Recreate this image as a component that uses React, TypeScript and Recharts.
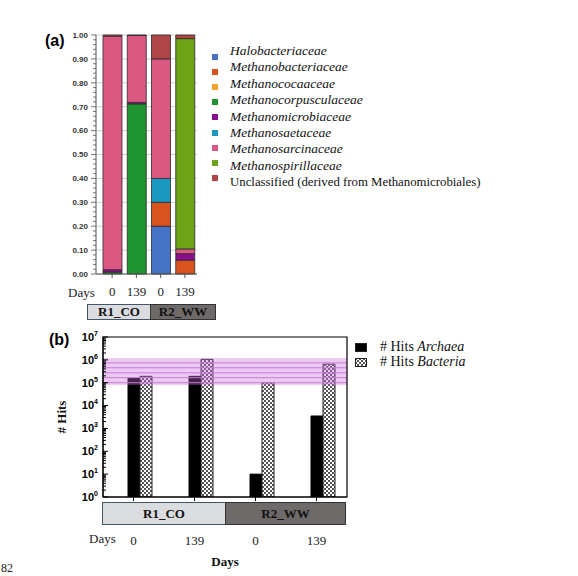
import { Fragment } from 'react';
import {
  BarChart,
  Bar,
  XAxis,
  YAxis,
  CartesianGrid,
  ReferenceArea,
  ReferenceLine,
  Legend,
} from 'recharts';

const serif = '"Liberation Serif", "Times New Roman", serif';
const sans = '"Liberation Sans", Arial, sans-serif';

// shared categories
const days = ['0', '139', '0', '139'];
const reactors = ['R1_CO', 'R2_WW'];

// (a) relative abundance of archaeal families
const families = [
  'Halobacteriaceae',
  'Methanobacteriaceae',
  'Methanococaaceae',
  'Methanocorpusculaceae',
  'Methanomicrobiaceae',
  'Methanosaetaceae',
  'Methanosarcinaceae',
  'Methanospirillaceae',
  'Unclassified (derived from Methanomicrobiales)',
];
const familyKeys = ['halo', 'mbac', 'mcoc', 'mcor', 'mmic', 'msae', 'msar', 'mspi', 'uncl'];
const familyColors = [
  '#4472C4',
  '#D9531E',
  '#F7A22A',
  '#1E9330',
  '#8B0E8E',
  '#1A98C2',
  '#DA5882',
  '#6EA318',
  '#B04548',
];
const halobacteriaceae = [0, 0, 0.2, 0];
const methanobacteriaceae = [0, 0, 0.1, 0.058];
const methanococaaceae = [0, 0, 0, 0];
const methanocorpusculaceae = [0.008, 0.712, 0, 0];
const methanomicrobiaceae = [0.01, 0.006, 0, 0.027];
const methanosaetaceae = [0, 0, 0.1, 0];
const methanosarcinaceae = [0.977, 0.28, 0.5, 0.02];
const methanospirillaceae = [0, 0, 0, 0.88];
const unclassified = [0.005, 0.002, 0.1, 0.015];
const familyValues = [
  halobacteriaceae,
  methanobacteriaceae,
  methanococaaceae,
  methanocorpusculaceae,
  methanomicrobiaceae,
  methanosaetaceae,
  methanosarcinaceae,
  methanospirillaceae,
  unclassified,
];
const fractionTicks = [0, 0.1, 0.2, 0.3, 0.4, 0.5, 0.6, 0.7, 0.8, 0.9, 1];
const fractionMinor = Array.from({ length: 51 }, (_, i) => i / 50);

const compositionRows = days.map((day, i) => {
  const row: Record<string, any> = { day };
  familyKeys.forEach((k, j) => (row[k] = familyValues[j][i]));
  return row;
});

// (b) number of hits
const hitsArchaea = [1.6e5, 1.9e5, 10, 3.5e3];
const hitsBacteria = [1.9e5, 1.05e6, 1.0e5, 6.5e5];
const hitsLabels = ['Archaea', 'Bacteria'];
const bandRange = [8e4, 1.2e6];
const bandLines = [1e5, 1.66e5, 2.7e5, 4.5e5, 7.4e5];
const logTicks = [1, 10, 100, 1e3, 1e4, 1e5, 1e6, 1e7];
const logMinor = logTicks
  .slice(0, -1)
  .flatMap((p) => [1, 2, 3, 4, 5, 6, 7, 8, 9].map((k) => k * p))
  .concat([1e7]);

const hitsRows = days.map((day, i) => ({
  day,
  archaea: hitsArchaea[i],
  bacteria: hitsBacteria[i],
}));

function FractionTick(props: any) {
  const { x, y, payload } = props;
  const v = payload.value;
  const major = Math.round(v * 100) % 10 === 0;
  const ax = x + 7;
  return (
    <g>
      <line x1={ax - (major ? 5 : 3)} x2={ax} y1={y} y2={y} stroke="#555" strokeWidth={0.8} />
      {major && (
        <text x={x - 1} y={y} dy="0.35em" textAnchor="end" fontFamily={sans} fontSize={8} fontWeight="bold" fill="#333">
          {v.toFixed(2)}
        </text>
      )}
    </g>
  );
}

function LogTick(props: any) {
  const { x, y, payload } = props;
  const v = payload.value;
  const n = Math.round(Math.log10(v));
  const major = Math.abs(Math.log10(v) - n) < 1e-9;
  const ax = x + 5;
  return (
    <g>
      <line x1={ax} x2={ax + (major ? 5 : 3)} y1={y} y2={y} stroke="#000" strokeWidth={1} />
      {major && (
        <text x={x} y={y} dy="0.35em" textAnchor="end" fontFamily={sans} fontSize={11} fontWeight="bold" fill="#000">
          <tspan>10</tspan>
          <tspan dy={-5} fontSize={7}>
            {n}
          </tspan>
        </text>
      )}
    </g>
  );
}

function FamilyLegend() {
  return (
    <div style={{ position: 'relative', width: 360, height: 160 }}>
      {families.map((name, i) => {
        const last = i === families.length - 1;
        return (
          <Fragment key={name}>
            <div
              style={{
                position: 'absolute',
                left: 4,
                top: 14 + i * 15.1,
                width: 6,
                height: 6,
                background: familyColors[i],
              }}
            />
            <div
              style={{
                position: 'absolute',
                left: 22,
                top: 2 + i * 16.4,
                lineHeight: '18px',
                whiteSpace: 'nowrap',
                fontFamily: serif,
                fontSize: last ? 12.8 : 13.5,
                fontStyle: last ? 'normal' : 'italic',
                color: '#111',
              }}
            >
              {name}
            </div>
          </Fragment>
        );
      })}
    </div>
  );
}

function HitsLegend() {
  return (
    <div style={{ position: 'relative', width: 200, height: 40 }}>
      {hitsLabels.map((name, i) => (
        <Fragment key={name}>
          <svg style={{ position: 'absolute', left: 5, top: 8 + i * 15 }} width={12} height={9}>
            <rect
              x={0.5}
              y={0.5}
              width={11}
              height={8}
              fill={i === 0 ? '#000' : 'url(#checker)'}
              stroke="#222"
            />
          </svg>
          <div
            style={{
              position: 'absolute',
              left: 30,
              top: 3 + i * 15,
              lineHeight: '18px',
              whiteSpace: 'nowrap',
              fontFamily: serif,
              fontSize: 14,
              color: '#111',
            }}
          >
            # Hits <i>{name}</i>
          </div>
        </Fragment>
      ))}
    </div>
  );
}

function Note({ x, y, center, style, children }: any) {
  return (
    <div
      style={{
        position: 'absolute',
        left: x,
        top: y,
        transform: center ? 'translate(-50%, -50%)' : 'translateY(-50%)',
        whiteSpace: 'nowrap',
        lineHeight: 1,
        ...style,
      }}
    >
      {children}
    </div>
  );
}

function GroupBox({ x, y, w, h, dark, children }: any) {
  return (
    <div
      style={{
        position: 'absolute',
        left: x,
        top: y,
        width: w,
        height: h,
        boxSizing: 'border-box',
        background: dark ? '#6E6A6A' : '#DADCE0',
        border: dark ? '1px solid #333' : '1px solid #44546A',
        display: 'flex',
        alignItems: 'center',
        justifyContent: 'center',
        fontFamily: serif,
        fontWeight: 'bold',
        fontSize: 13,
        color: '#111',
      }}
    >
      {children}
    </div>
  );
}

export default function App() {
  return (
    <div style={{ position: 'absolute', left: 0, top: 0, width: 578, height: 576, background: '#fff', overflow: 'hidden' }}>
      <div style={{ position: 'absolute', left: 0, top: 0 }}>
        <BarChart
          width={578}
          height={310}
          data={compositionRows}
          margin={{ top: 35, right: 381, bottom: 6, left: 36 }}
          barSize={19}
        >
          <CartesianGrid vertical={false} horizontalValues={fractionTicks} stroke="#d2d2d2" />
          <XAxis
            dataKey="day"
            padding={{ left: 4, right: 0 }}
            tickSize={4}
            tickMargin={9}
            stroke="#555"
            tick={{ fontFamily: serif, fontSize: 13, fill: '#222' }}
          />
          <YAxis
            domain={[0, 1]}
            ticks={fractionMinor}
            interval={0}
            width={60}
            tickLine={false}
            tickSize={0}
            tickMargin={7}
            stroke="#555"
            tick={(p: any) => <FractionTick {...p} />}
          />
          {familyKeys.map((k, i) => (
            <Bar
              key={k}
              dataKey={k}
              name={families[i]}
              stackId="a"
              fill={familyColors[i]}
              stroke="#2b2b2b"
              strokeWidth={0.8}
              isAnimationActive={false}
            />
          ))}
          <Legend
            layout="vertical"
            align="center"
            verticalAlign="middle"
            wrapperStyle={{ left: 208, top: 40, width: 360, height: 160 }}
            content={() => <FamilyLegend />}
          />
        </BarChart>
      </div>

      <div style={{ position: 'absolute', left: 0, top: 320 }}>
        <BarChart
          width={560}
          height={240}
          data={hitsRows}
          margin={{ top: 17, right: 213, bottom: 3, left: 50 }}
          barSize={12}
          barGap={0}
        >
          <defs>
            <pattern id="checker" width={4} height={4} patternUnits="userSpaceOnUse">
              <rect width={4} height={4} fill="#fff" />
              <rect width={2} height={2} fill="#555" />
              <rect x={2} y={2} width={2} height={2} fill="#555" />
            </pattern>
          </defs>
          <XAxis
            dataKey="day"
            height={60}
            tickSize={4}
            tickMargin={35}
            stroke="#000"
            tick={{ fontFamily: serif, fontSize: 13, fill: '#222' }}
          />
          <YAxis
            scale="log"
            domain={[1, 1e7]}
            allowDataOverflow
            ticks={logMinor}
            interval={0}
            width={53}
            tickLine={false}
            tickSize={0}
            tickMargin={5}
            stroke="#000"
            tick={(p: any) => <LogTick {...p} />}
            label={{
              value: '# Hits',
              angle: -90,
              position: 'insideLeft',
              offset: 11,
              style: { textAnchor: 'middle', fontFamily: serif, fontWeight: 'bold', fontSize: 13, fill: '#111' },
            }}
          />
          <Bar dataKey="pad" fill="none" legendType="none" isAnimationActive={false} />
          <Bar dataKey="archaea" name="# Hits Archaea" fill="#000" stroke="#000" isAnimationActive={false} />
          <Bar dataKey="bacteria" name="# Hits Bacteria" fill="url(#checker)" stroke="#222" isAnimationActive={false} />
          <ReferenceArea
            y1={bandRange[0]}
            y2={bandRange[1]}
            fill="#CC66DD"
            fillOpacity={0.35}
            stroke="none"
            zIndex={350}
          />
          {bandLines.map((v) => (
            <ReferenceLine key={v} y={v} stroke="#C77BD8" strokeWidth={1} zIndex={360} />
          ))}
          <ReferenceArea y1={1} y2={1e7} fill="none" stroke="#000" strokeWidth={1.2} zIndex={370} />
          <Legend
            layout="vertical"
            align="center"
            verticalAlign="middle"
            wrapperStyle={{ left: 350, top: 15, width: 200, height: 40 }}
            content={() => <HitsLegend />}
          />
        </BarChart>
      </div>

      <Note x={45} y={41} style={{ fontFamily: sans, fontWeight: 'bold', fontSize: 16 }}>
        (a)
      </Note>
      <Note x={68} y={292} style={{ fontFamily: serif, fontSize: 13, color: '#222' }}>
        Days
      </Note>
      <GroupBox x={87} y={304} w={64} h={16}>
        {reactors[0]}
      </GroupBox>
      <GroupBox x={150} y={304} w={66} h={16} dark>
        {reactors[1]}
      </GroupBox>

      <Note x={49} y={340} style={{ fontFamily: sans, fontWeight: 'bold', fontSize: 16 }}>
        (b)
      </Note>
      <GroupBox x={102} y={502} w={124} h={23}>
        {reactors[0]}
      </GroupBox>
      <GroupBox x={225} y={502} w={121} h={23} dark>
        {reactors[1]}
      </GroupBox>
      <Note x={89} y={538} style={{ fontFamily: serif, fontSize: 13, color: '#222' }}>
        Days
      </Note>
      <Note x={225} y={561} center style={{ fontFamily: serif, fontWeight: 'bold', fontSize: 13, color: '#111' }}>
        Days
      </Note>
      <Note x={1} y={568} style={{ fontFamily: serif, fontSize: 12, color: '#222' }}>
        82
      </Note>
    </div>
  );
}
